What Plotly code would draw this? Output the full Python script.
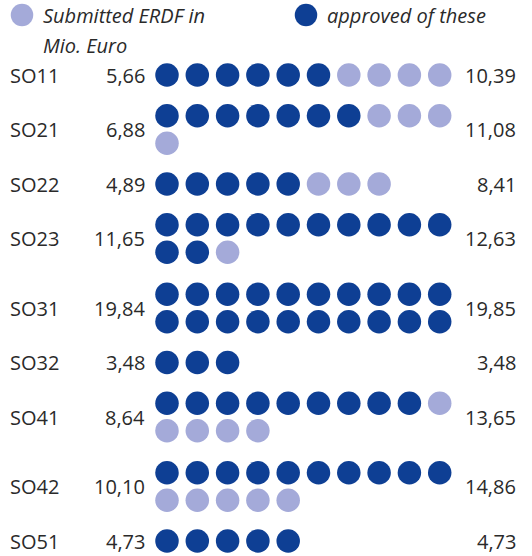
import math
import plotly.graph_objects as go

# ---- data ----
categories = ["SO11", "SO21", "SO22", "SO23", "SO31", "SO32", "SO41", "SO42", "SO51"]
approved = [5.66, 6.88, 4.89, 11.65, 19.84, 3.48, 8.64, 10.10, 4.73]
submitted = [10.39, 11.08, 8.41, 12.63, 19.85, 3.48, 13.65, 14.86, 4.73]
legend_submitted = ["Submitted ERDF in", "Mio. Euro"]
legend_approved = ["approved of these"]

# ---- style / layout ----
DARK = "#0e3f94"
LIGHT = "#a4aad9"
TEXT = "#2a2a2a"
FONT = "Open Sans"
FS = 20
W, H = 532, 556
X0, DX, PER_LINE = 167, 30.3, 10
LINE_PITCH = 27.5
Y_START, BASE_GAP, HALF_EXTRA = 75, 39.5, 15
DOT = 23.5


def fmt(v):
    return f"{v:.2f}".replace(".", ",")


n_dark = [round(a) for a in approved]
n_total = [round(s) for s in submitted]
n_lines = [math.ceil(t / PER_LINE) for t in n_total]

centers = []
for i in range(len(categories)):
    if i == 0:
        centers.append(Y_START)
    else:
        centers.append(centers[-1] + BASE_GAP + (n_lines[i - 1] - 1) * HALF_EXTRA
                       + (n_lines[i] - 1) * HALF_EXTRA)

dx, dy, dc = [], [], []
for i in range(len(categories)):
    for j in range(n_total[i]):
        line, col = divmod(j, PER_LINE)
        dx.append(X0 + col * DX)
        dy.append(centers[i] + (line - (n_lines[i] - 1) / 2) * LINE_PITCH)
        dc.append(DARK if j < n_dark[i] else LIGHT)

fig = go.Figure()
fig.add_trace(go.Scatter(x=dx, y=dy, mode="markers",
                         marker=dict(size=DOT, color=dc, line=dict(width=0)),
                         hoverinfo="skip", showlegend=False))

# legend markers
fig.add_trace(go.Scatter(x=[22, 306], y=[15, 15], mode="markers",
                         marker=dict(size=DOT - 1, color=[LIGHT, DARK], line=dict(width=0)),
                         hoverinfo="skip", showlegend=False))

ann = []
def txt(x, y, s, anchor, italic=False):
    ann.append(dict(x=x, y=y, xref="x", yref="y", text=s, showarrow=False,
                    xanchor=anchor, yanchor="middle",
                    font=dict(family=FONT, size=FS, color=TEXT,
                              style="italic" if italic else "normal")))

for k, line in enumerate(legend_submitted):
    txt(41, 15 + k * 30, line, "left", True)
for k, line in enumerate(legend_approved):
    txt(325, 15 + k * 30, line, "left", True)

for i, c in enumerate(categories):
    txt(8, centers[i], c, "left")
    txt(147, centers[i], fmt(approved[i]), "right")
    txt(518, centers[i], fmt(submitted[i]), "right")

fig.update_layout(
    width=W, height=H, margin=dict(l=0, r=0, t=0, b=0, pad=0),
    paper_bgcolor="white", plot_bgcolor="white",
    xaxis=dict(range=[0, W], visible=False, fixedrange=True),
    yaxis=dict(range=[H, 0], visible=False, fixedrange=True),
    annotations=ann,
)
fig.write_html("out.html", config={"displayModeBar": False})
